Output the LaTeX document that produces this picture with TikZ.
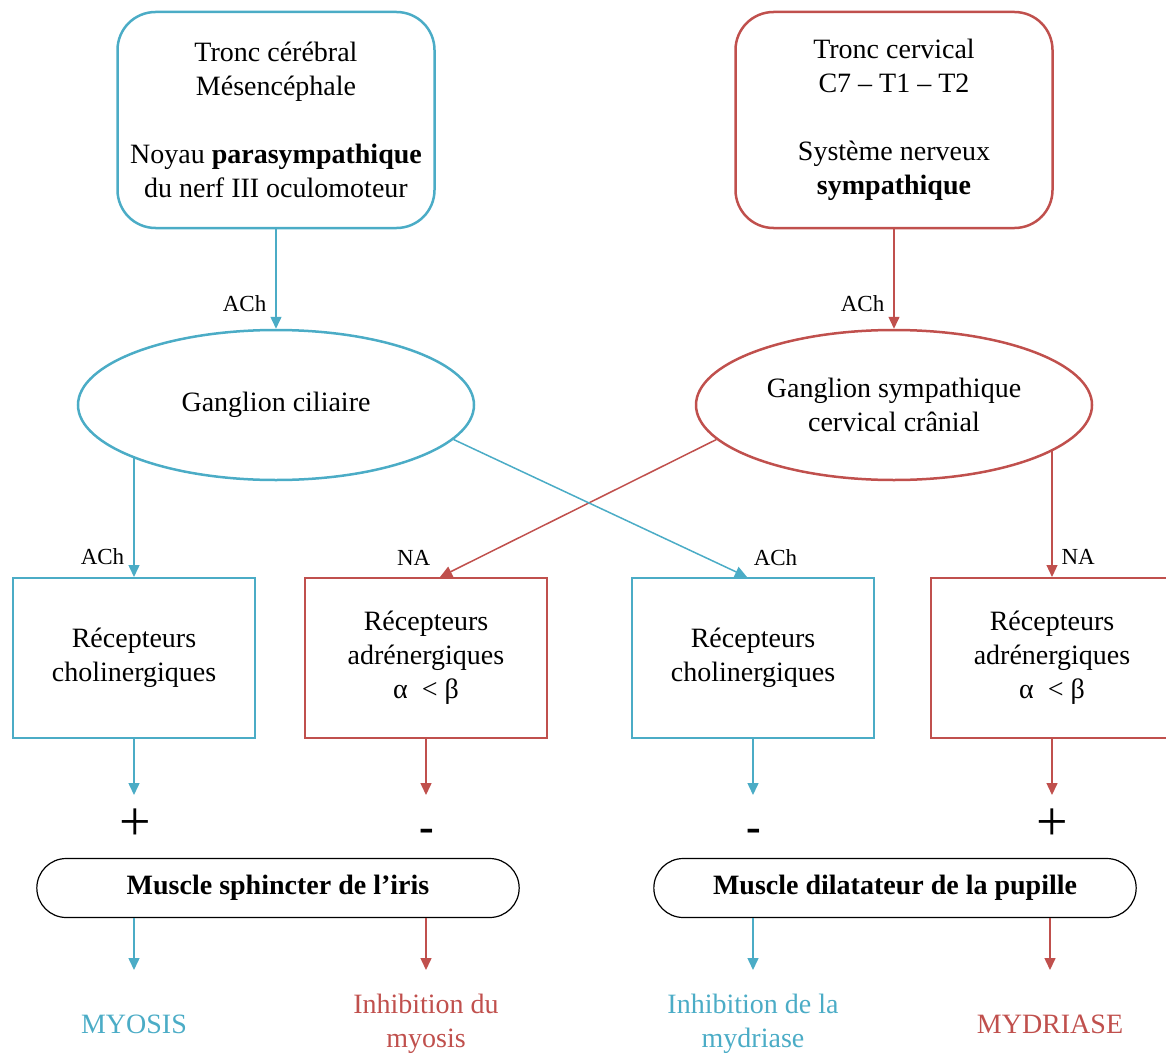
\documentclass[tikz,border=0pt]{standalone}
\usepackage{fontspec}
\setmainfont{Liberation Serif}
\usetikzlibrary{arrows.meta,positioning,shapes.geometric,shapes.misc}
\definecolor{pblue}{RGB}{75,172,198}
\definecolor{sred}{RGB}{192,80,77}

\begin{document}
\begin{tikzpicture}[x=1pt, y=-1pt, >={Triangle[length=12pt,width=11pt]},
  font=\fontsize{28}{34}\selectfont,
  rbox/.style={draw, rounded corners=38pt, line width=2.5pt, minimum width=317pt, minimum height=216pt, align=center},
  gang/.style={draw, ellipse, line width=2.5pt, minimum width=396pt, minimum height=150pt, align=center},
  rec/.style={draw, line width=2pt, minimum width=242pt, minimum height=160pt, align=center},
  musc/.style={draw, rounded rectangle, line width=1.2pt, minimum width=489pt, minimum height=59pt, font=\fontsize{28}{30}\selectfont\bfseries},
  lbl/.style={text=black, font=\fontsize{23}{26}\selectfont, inner sep=3pt},
  link/.style={->, line width=1.5pt},
  res/.style={align=center}]
\useasboundingbox (0,0) rectangle (1166,1054);

% sources
\node[rbox, draw=pblue] (tc) at (276,120) {Tronc cérébral\\Mésencéphale\\[34pt]Noyau \textbf{parasympathique}\\du nerf III oculomoteur};
\node[rbox, draw=sred] (cv) at (894,120) {Tronc cervical\\C7 – T1 – T2\\[34pt]Système nerveux\\\textbf{sympathique}};

% ganglions
\node[gang, draw=pblue] (gc) at (276,405) {Ganglion ciliaire};
\node[gang, draw=sred] (gs) at (894,405) {Ganglion sympathique\\cervical crânial};

% recepteurs
\node[rec, draw=pblue] (r1) at (134,658) {Récepteurs\\cholinergiques};
\node[rec, draw=sred] (r2) at (426,658) {Récepteurs\\adrénergiques\\α\ \ < β};
\node[rec, draw=pblue] (r3) at (753,658) {Récepteurs\\cholinergiques};
\node[rec, draw=sred] (r4) at (1052,658) {Récepteurs\\adrénergiques\\α\ \ < β};

% effets
\node[anchor=base, font=\fontsize{56}{56}\selectfont] (p1) at (135,840) {+};
\node[anchor=base, font=\fontsize{44}{44}\selectfont\bfseries] (m2) at (427,841) {-};
\node[anchor=base, font=\fontsize{44}{44}\selectfont\bfseries] (m3) at (754,841) {-};
\node[anchor=base, font=\fontsize{56}{56}\selectfont] (p4) at (1052,840) {+};

% muscles
\node[musc] (ms) at (278,888) {Muscle sphincter de l’iris};
\node[musc] (md) at (895,888) {Muscle dilatateur de la pupille};

% resultats
\node[res, text=pblue] (o1) at (134,1024) {MYOSIS};
\node[res, text=sred] (o2) at (426,1024) {Inhibition du\\myosis};
\node[res, text=pblue] (o3) at (753,1024) {Inhibition de la\\mydriase};
\node[res, text=sred] (o4) at (1050,1024) {MYDRIASE};

\coordinate (t1) at (134,795);
\coordinate (t2) at (426,795);
\coordinate (t3) at (753,795);
\coordinate (t4) at (1052,795);
\coordinate (e1) at (134,970);
\coordinate (e2) at (426,970);
\coordinate (e3) at (753,970);
\coordinate (e4) at (1050,970);

\draw[link, pblue] (tc) -- node[lbl, near end, left=6pt] (a1) {ACh} (gc);
\draw[link, sred] (cv) -- node[lbl, near end, left=6pt] (a2) {ACh} (gs);

\draw[link, pblue] (r1.north |- gc.200) -- node[lbl, pos=0.83, left=6pt] (a3) {ACh} (r1.north);
\draw[link, sred] (gs.191) -- node[lbl, at end, anchor=south east, xshift=-6pt, yshift=8pt] (a4) {NA} ([xshift=14pt]r2.north);
\draw[link, pblue] (gc.-11) -- node[lbl, at end, anchor=south west, xshift=3pt, yshift=8pt] (a5) {ACh} ([xshift=-6pt]r3.north);
\draw[link, sred, line width=1.2pt] (r4.north |- gs.-16) -- node[lbl, pos=0.84, right=6pt] (a6) {NA} (r4.north);

\draw[link, pblue] (r1.south) -- (t1);
\draw[link, sred] (r2.south) -- (t2);
\draw[link, pblue] (r3.south) -- (t3);
\draw[link, sred] (r4.south) -- (t4);

\draw[link, pblue] (e1 |- ms.south) -- (e1);
\draw[link, sred] (e2 |- ms.south) -- (e2);
\draw[link, pblue] (e3 |- md.south) -- (e3);
\draw[link, sred] (e4 |- md.south) -- (e4);
\end{tikzpicture}
\end{document}
